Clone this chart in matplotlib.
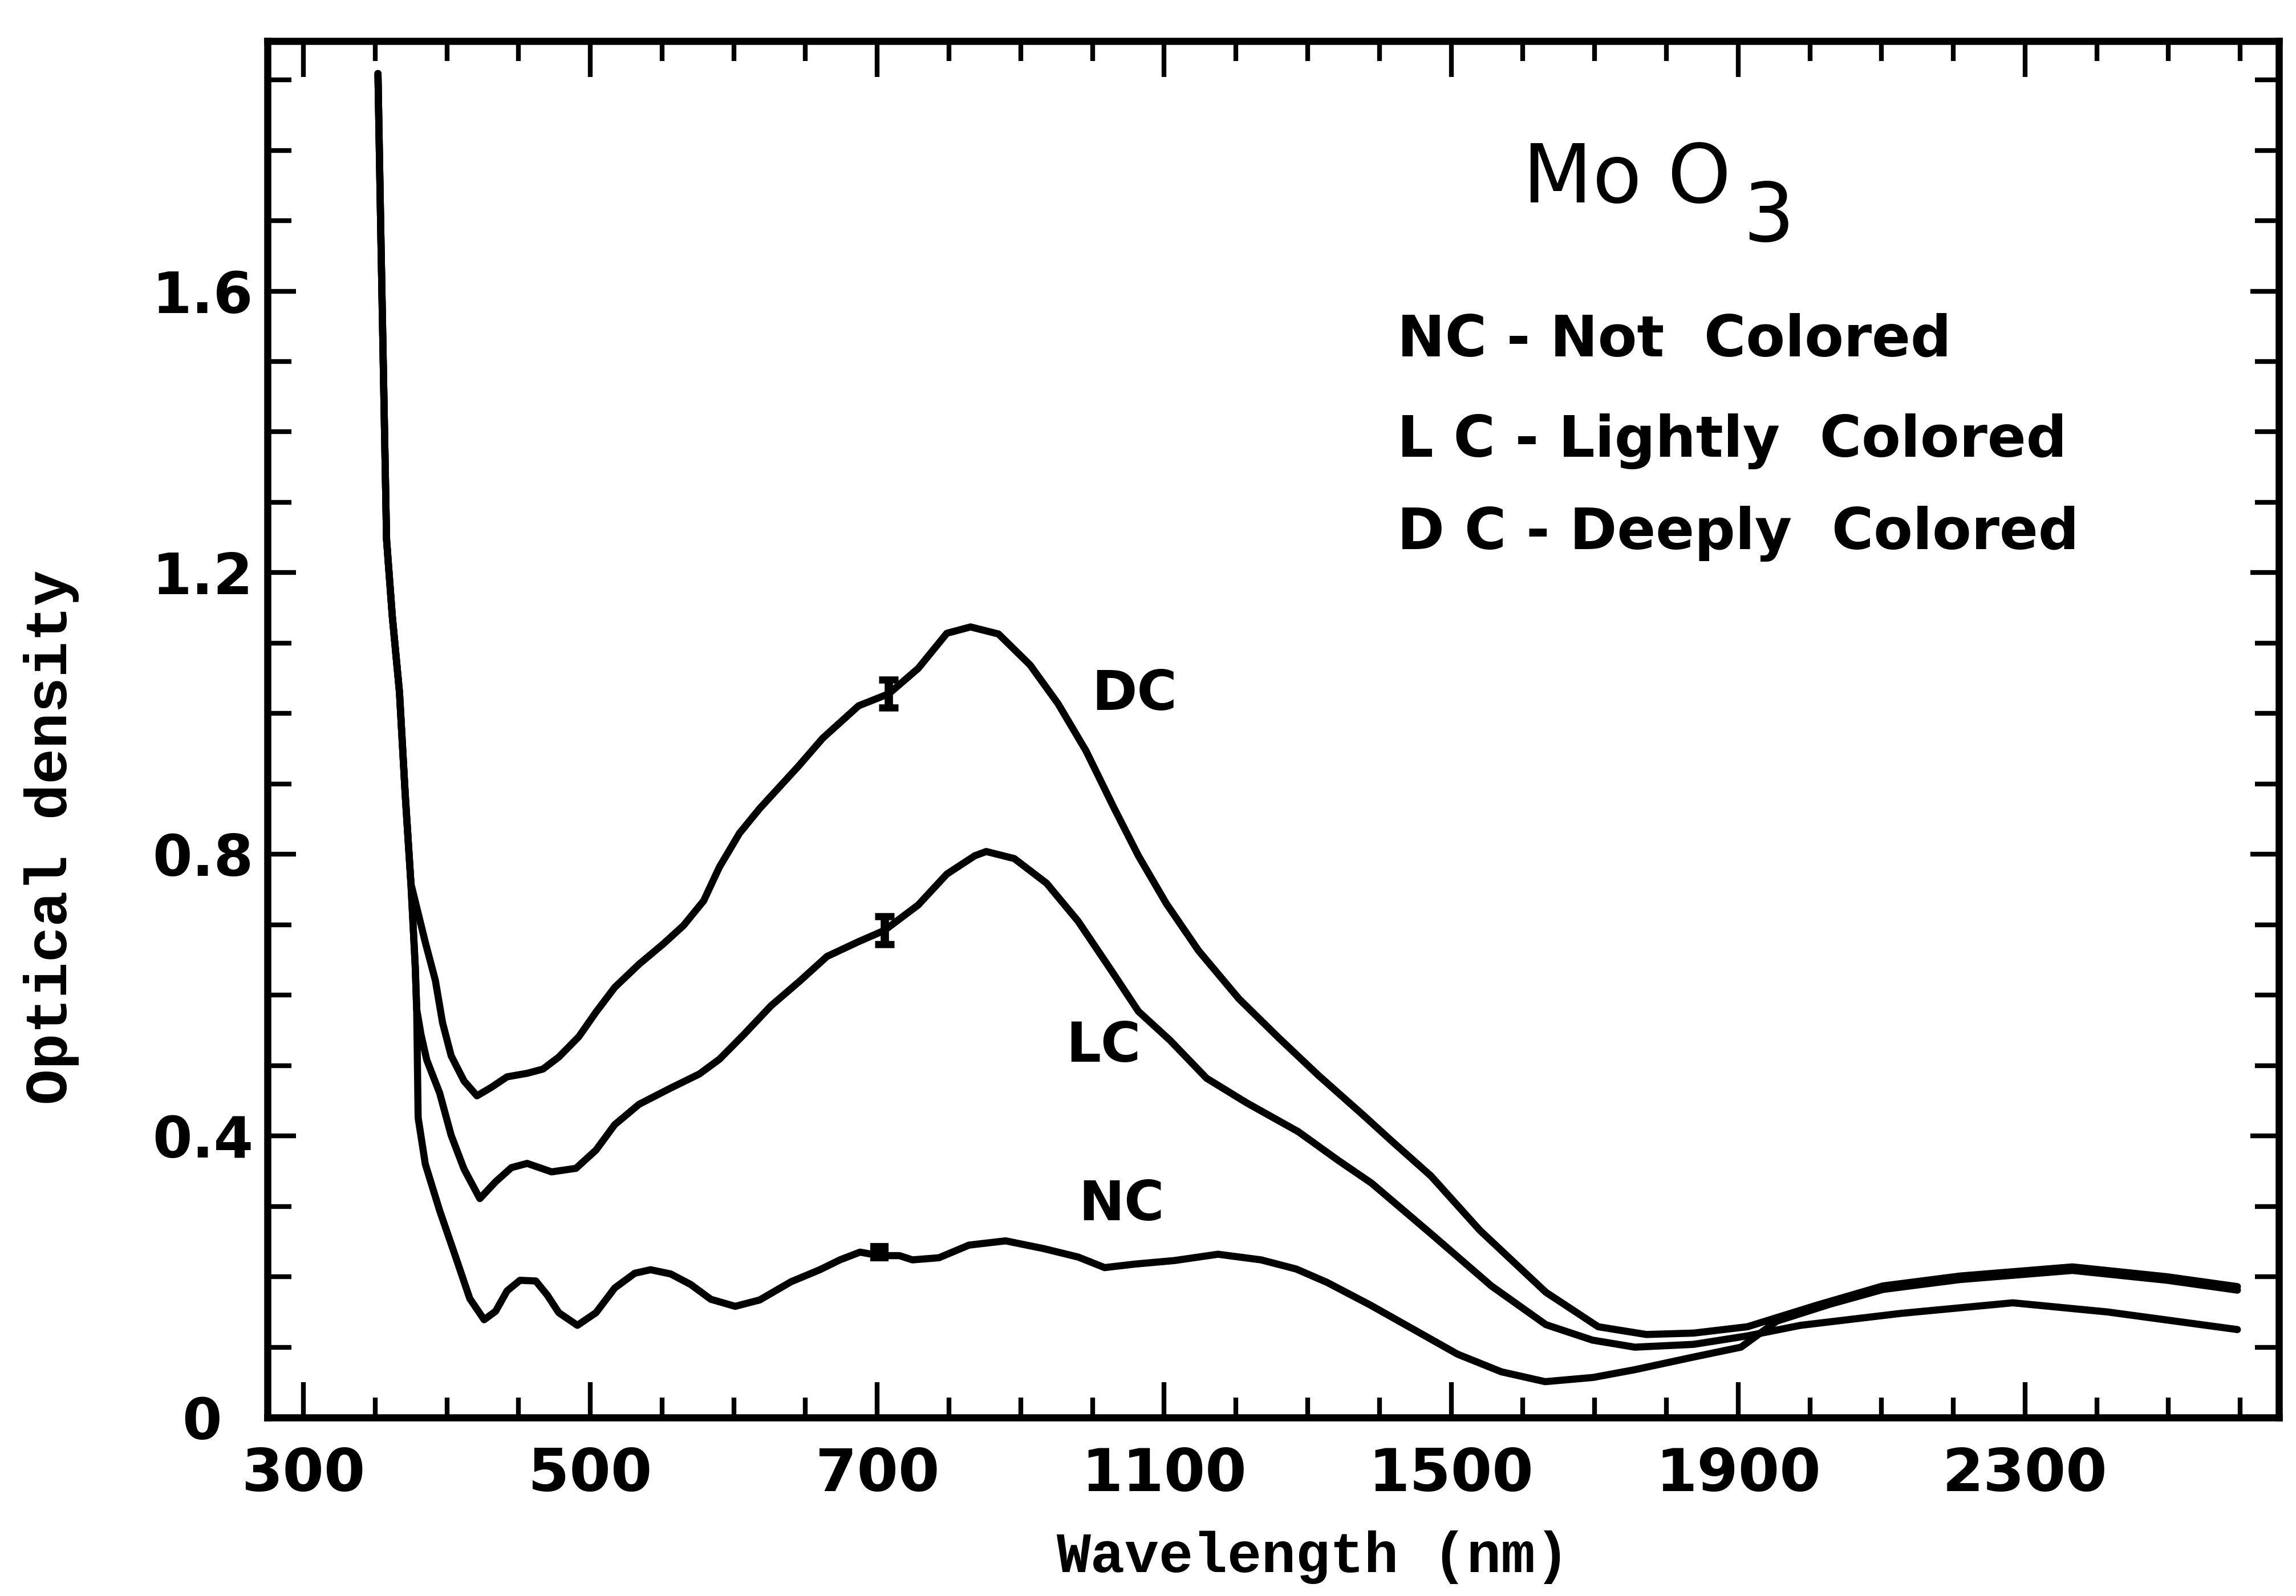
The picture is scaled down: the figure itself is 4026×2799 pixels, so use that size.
import numpy as np
import matplotlib.pyplot as plt

# wavelengths (nm) and optical density
dc_nm = [352, 354, 356, 358, 362, 367, 371, 375, 385, 392, 397, 403, 412, 421, 431, 442,
         456, 467, 478, 492, 504, 517, 534, 551, 565, 579, 590, 604, 618, 645, 662, 687,
         716, 757, 797, 830, 869, 913, 952, 991, 1030, 1064, 1103, 1148, 1204, 1259, 1315,
         1377, 1418, 1472, 1540, 1632, 1705, 1772, 1838, 1913, 1954, 2011, 2102, 2209,
         2366, 2498, 2596]
dc_od = [1.909, 1.681, 1.464, 1.247, 1.138, 1.030, 0.885, 0.758, 0.675, 0.621, 0.561, 0.514,
         0.478, 0.457, 0.469, 0.484, 0.489, 0.495, 0.512, 0.541, 0.576, 0.611, 0.644, 0.673,
         0.699, 0.734, 0.782, 0.830, 0.865, 0.925, 0.965, 1.011, 1.028, 1.064, 1.114, 1.123,
         1.113, 1.069, 1.014, 0.947, 0.866, 0.798, 0.730, 0.663, 0.595, 0.540, 0.486, 0.430,
         0.392, 0.343, 0.266, 0.178, 0.129, 0.118, 0.120, 0.129, 0.142, 0.160, 0.187, 0.201,
         0.214, 0.200, 0.186]

lc_nm = [352, 354, 356, 358, 362, 367, 371, 375, 378, 379, 382, 386, 395, 403, 412, 423,
         434, 445, 456, 473, 490, 504, 517, 534, 556, 576, 590, 607, 626, 646, 665, 687,
         710, 757, 797, 836, 852, 891, 936, 980, 1025, 1064, 1108, 1159, 1215, 1287, 1343,
         1389, 1472, 1556, 1632, 1697, 1756, 1838, 1913, 1987, 2127, 2283, 2415, 2596]
lc_od = [1.909, 1.681, 1.464, 1.247, 1.138, 1.030, 0.885, 0.758, 0.640, 0.580, 0.544, 0.508,
         0.461, 0.401, 0.353, 0.311, 0.335, 0.355, 0.361, 0.349, 0.354, 0.380, 0.416, 0.445,
         0.468, 0.488, 0.509, 0.544, 0.585, 0.620, 0.655, 0.676, 0.692, 0.728, 0.772, 0.798,
         0.804, 0.794, 0.759, 0.705, 0.637, 0.577, 0.536, 0.482, 0.447, 0.406, 0.365, 0.333,
         0.261, 0.187, 0.132, 0.110, 0.100, 0.104, 0.116, 0.131, 0.148, 0.163, 0.150, 0.125]

nc_nm = [352, 354, 356, 358, 362, 367, 371, 375, 378, 379, 380, 385, 395, 406, 416, 426,
         434, 442, 451, 462, 470, 478, 491, 504, 517, 531, 542, 556, 570, 584, 601, 618,
         640, 660, 674, 688, 703, 731, 749, 786, 828, 879, 932, 980, 1017, 1059, 1114, 1175,
         1235, 1284, 1327, 1387, 1448, 1509, 1570, 1631, 1698, 1756, 1838, 1904, 1954, 2028,
         2102, 2209, 2366, 2498, 2596]
nc_od = [1.909, 1.681, 1.464, 1.247, 1.138, 1.030, 0.885, 0.758, 0.640, 0.580, 0.426, 0.360,
         0.294, 0.229, 0.169, 0.139, 0.151, 0.180, 0.195, 0.194, 0.174, 0.149, 0.131, 0.149,
         0.184, 0.205, 0.210, 0.204, 0.189, 0.168, 0.158, 0.167, 0.193, 0.210, 0.224, 0.235,
         0.230, 0.230, 0.224, 0.227, 0.245, 0.251, 0.240, 0.228, 0.213, 0.218, 0.223, 0.232,
         0.224, 0.211, 0.192, 0.160, 0.125, 0.090, 0.065, 0.051, 0.057, 0.068, 0.086, 0.100,
         0.137, 0.161, 0.182, 0.196, 0.209, 0.195, 0.181]

# detector-change marks on each trace
mark_nm = [716, 710, 703]
mark_od = [1.028, 0.692, 0.235]

major_nm = [300, 500, 700, 1100, 1500, 1900, 2300]
minor_nm = [350, 400, 450, 550, 600, 650, 800, 900, 1000, 1200, 1300, 1400, 1600, 1700,
            1800, 2000, 2100, 2200, 2400, 2500, 2600]
y_major = [0, 0.4, 0.8, 1.2, 1.6]
# the "0" sits further out to the left in the original, hence the trailing space
y_labels = ["0 \u2009", "0.4", "0.8", "1.2", "1.6"]


# the wavelength axis changes pitch at 700 nm (50 nm per division below, 100 nm above)
def to_chart(w):
    w = np.asarray(w, dtype=float)
    return np.where(w <= 700, (w - 300) / 50.0, 8 + (w - 700) / 100.0)


def from_chart(p):
    p = np.asarray(p, dtype=float)
    return np.where(p <= 8, 300 + 50.0 * p, 700 + 100.0 * (p - 8))


fig = plt.figure(figsize=(4026 / 300, 2799 / 300), dpi=300)
ax = fig.add_axes([0.1165, 0.1118, 0.8761, 0.8624])
ax.set_xscale('function', functions=(to_chart, from_chart))

for nm, od in [(nc_nm, nc_od), (lc_nm, lc_od), (dc_nm, dc_od)]:
    ax.plot(nm, od, color='black', lw=3.0, solid_joinstyle='round', solid_capstyle='round')

ax.errorbar(mark_nm[:2], mark_od[:2], yerr=0.02, fmt='none', ecolor='black',
            elinewidth=3.5, capsize=4, capthick=3)
ax.plot(mark_nm[2:], mark_od[2:], 's', color='black', ms=6.5)

ax.set_xlim(275, 2654)
ax.set_ylim(0, 1.955)

ax.set_xticks(major_nm)
ax.set_xticklabels([str(v) for v in major_nm])
ax.set_xticks(minor_nm, minor=True)
ax.set_yticks(y_major)
ax.set_yticklabels(y_labels)
ax.set_yticks(np.arange(0.1, 1.95, 0.1), minor=True)

ax.tick_params(axis='both', which='both', direction='in', top=True, right=True, width=2)
ax.tick_params(axis='x', which='major', length=15, pad=12)
ax.tick_params(axis='x', which='minor', length=8.5)
ax.tick_params(axis='y', which='major', length=12, pad=6)
ax.tick_params(axis='y', which='minor', length=10)
for lab in ax.get_xticklabels():
    lab.set_fontsize(25)
    lab.set_fontweight('bold')
for lab in ax.get_yticklabels():
    lab.set_fontsize(24)
    lab.set_fontweight('bold')
for sp in ax.spines.values():
    sp.set_linewidth(3)

# title block and key
ax.text(0.624, 0.883, "Mo O", transform=ax.transAxes, fontsize=34, ha='left', va='baseline')
ax.text(0.7335, 0.8546, "3", transform=ax.transAxes, fontsize=34, ha='left', va='baseline')
key_lines = ["NC - Not  Colored", "L C - Lightly  Colored", "D C - Deeply  Colored"]
key_y = [0.771, 0.698, 0.631]
for s, yy in zip(key_lines, key_y):
    ax.text(0.5617, yy, s, transform=ax.transAxes, fontsize=24, fontweight='bold',
            ha='left', va='baseline')

# curve labels
ax.text(0.431, 0.514, "DC", transform=ax.transAxes, fontsize=23, fontweight='bold',
        ha='center', va='baseline')
ax.text(0.4157, 0.2585, "LC", transform=ax.transAxes, fontsize=23, fontweight='bold',
        ha='center', va='baseline')
ax.text(0.4245, 0.1433, "NC", transform=ax.transAxes, fontsize=23, fontweight='bold',
        ha='center', va='baseline')

fig.text(0.5718, 0.015, "Wavelength (nm)", family='Liberation Mono', fontsize=24,
         fontweight='bold', ha='center', va='baseline')
fig.text(0.0224, 0.4755, "Optical density", family='Liberation Mono', fontsize=25,
         fontweight='bold', rotation=90, ha='center', va='center')

fig.savefig('out.png', dpi=300)
